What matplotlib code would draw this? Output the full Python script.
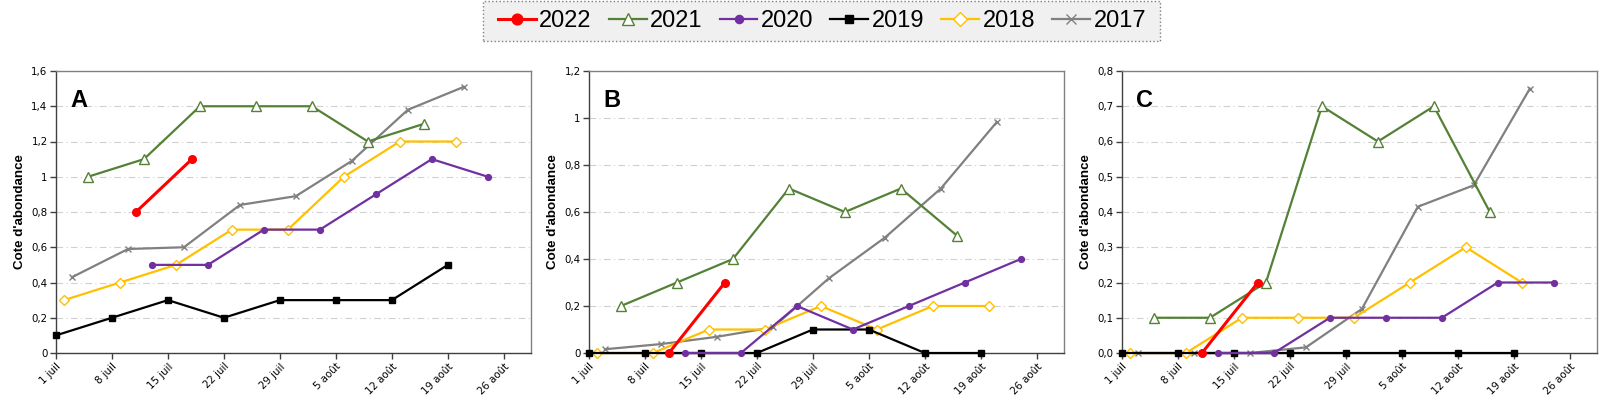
import matplotlib
matplotlib.use('Agg')
import matplotlib.pyplot as plt
from matplotlib.ticker import FixedLocator
from matplotlib.patches import Rectangle

# jours depuis le 1 juillet
days_2022 = [10, 17]
days_2021 = [4, 11, 18, 25, 32, 39, 46]
days_2020 = [12, 19, 26, 33, 40, 47, 54]
days_2019 = [0, 7, 14, 21, 28, 35, 42, 49]
days_2018 = [1, 8, 15, 22, 29, 36, 43, 50]
days_2017 = [2, 9, 16, 23, 30, 37, 44, 51]

# panneau A
a_2022 = [0.8, 1.1]
a_2021 = [1.0, 1.1, 1.4, 1.4, 1.4, 1.2, 1.3]
a_2020 = [0.5, 0.5, 0.7, 0.7, 0.9, 1.1, 1.0]
a_2019 = [0.1, 0.2, 0.3, 0.2, 0.3, 0.3, 0.3, 0.5]
a_2018 = [0.3, 0.4, 0.5, 0.7, 0.7, 1.0, 1.2, 1.2]
a_2017 = [0.43, 0.59, 0.60, 0.84, 0.89, 1.09, 1.38, 1.51]

# panneau B
b_2022 = [0, 0.3]
b_2021 = [0.2, 0.3, 0.4, 0.7, 0.6, 0.7, 0.5]
b_2020 = [0, 0, 0.2, 0.1, 0.2, 0.3, 0.4]
b_2019 = [0, 0, 0, 0, 0.1, 0.1, 0, 0]
b_2018 = [0, 0, 0.1, 0.1, 0.2, 0.1, 0.2, 0.2]
b_2017 = [0.016, 0.038, 0.069, 0.109, 0.318, 0.491, 0.700, 0.983]

# panneau C
c_2022 = [0, 0.2]
c_2021 = [0.1, 0.1, 0.2, 0.7, 0.6, 0.7, 0.4]
c_2020 = [0, 0, 0.1, 0.1, 0.1, 0.2, 0.2]
c_2019 = [0, 0, 0, 0, 0, 0, 0, 0]
c_2018 = [0, 0, 0.1, 0.1, 0.1, 0.2, 0.3, 0.2]
c_2017 = [0, 0, 0, 0.016, 0.125, 0.415, 0.476, 0.75]

tick_days = [0, 7, 14, 21, 28, 35, 42, 49, 56]
tick_labels = ['1 juil', '8 juil', '15 juil', '22 juil', '29 juil',
               '5 août', '12 août', '19 août', '26 août']

years = ['2022', '2021', '2020', '2019', '2018', '2017']
days = [days_2022, days_2021, days_2020, days_2019, days_2018, days_2017]
panels = [
    ('A', [a_2022, a_2021, a_2020, a_2019, a_2018, a_2017], 1.6,
     [0, 0.2, 0.4, 0.6, 0.8, 1, 1.2, 1.4, 1.6],
     ['0', '0,2', '0,4', '0,6', '0,8', '1', '1,2', '1,4', '1,6']),
    ('B', [b_2022, b_2021, b_2020, b_2019, b_2018, b_2017], 1.2,
     [0, 0.2, 0.4, 0.6, 0.8, 1, 1.2],
     ['0', '0,2', '0,4', '0,6', '0,8', '1', '1,2']),
    ('C', [c_2022, c_2021, c_2020, c_2019, c_2018, c_2017], 0.8,
     [0, 0.1, 0.2, 0.3, 0.4, 0.5, 0.6, 0.7, 0.8],
     ['0,0', '0,1', '0,2', '0,3', '0,4', '0,5', '0,6', '0,7', '0,8']),
]

styles = {
    '2022': dict(color='#ff0000', marker='o', ms=5.5, mfc='#ff0000', lw=2.2),
    '2021': dict(color='#538135', marker='^', ms=6.5, mfc='white', lw=1.6),
    '2020': dict(color='#7030a0', marker='o', ms=4.2, mfc='#7030a0', lw=1.6),
    '2019': dict(color='#000000', marker='s', ms=4.5, mfc='#000000', lw=1.6),
    '2018': dict(color='#ffc000', marker='D', ms=5.2, mfc='white', lw=1.6),
    '2017': dict(color='#808080', marker='x', ms=5, mfc='#808080', lw=1.6),
}

fig = plt.figure(figsize=(16, 3.99), dpi=100)
lefts = [56, 589, 1122]
handles = {}
for (letter, vals, ymax, yt, ytl), left in zip(panels, lefts):
    ax = fig.add_axes([left / 1600, 46 / 399, 475 / 1600, 282 / 399])
    for i in range(5, -1, -1):
        y = years[i]
        st = styles[y]
        ln, = ax.plot(days[i], vals[i], color=st['color'], marker=st['marker'],
                      markersize=st['ms'], markerfacecolor=st['mfc'],
                      markeredgecolor=st['color'], markeredgewidth=1,
                      linewidth=st['lw'], clip_on=False, zorder=3, label=y)
        handles[y] = ln
    ax.set_xlim(0, 59.4)
    ax.set_ylim(0, ymax)
    ax.xaxis.set_major_locator(FixedLocator(tick_days))
    ax.set_xticklabels(tick_labels, rotation=45, ha='right',
                       rotation_mode='anchor', fontsize=7.4, family='DejaVu Sans')
    ax.yaxis.set_major_locator(FixedLocator(yt))
    ax.set_yticklabels(ytl, fontsize=7.4, family='DejaVu Sans')
    ax.tick_params(axis='both', direction='out', length=4, width=1,
                   color='#404040', pad=2)
    for s in ['top', 'right']:
        ax.spines[s].set_color('#808080')
    for s in ['left', 'bottom']:
        ax.spines[s].set_color('#404040')
    for s in ax.spines.values():
        s.set_linewidth(1)
    ax.grid(axis='y', color='#d0d0d0', linestyle=(0, (6, 3, 1, 3)), linewidth=0.8)
    ax.set_axisbelow(True)
    ax.set_ylabel("Cote d'abondance", fontsize=9.6, fontweight='bold',
                  family='Liberation Sans')
    ax.yaxis.set_label_coords(-0.063, 0.5)
    ax.text(0.03, 0.935, letter, transform=ax.transAxes, ha='left', va='top',
            fontsize=17, fontweight='bold', family='Liberation Sans')

# cadre de la légende
box = Rectangle((483 / 1600, 358 / 399), 677 / 1600, 40 / 399,
                transform=fig.transFigure, facecolor='#f0f0f0',
                edgecolor='#808080', linestyle=':', linewidth=1, zorder=0)
fig.patches.append(box)

leg = fig.legend([handles[y] for y in years], years, loc='center',
                 bbox_to_anchor=(822 / 1600, 378 / 399), ncol=6, frameon=False,
                 prop={'family': 'Liberation Sans', 'size': 17},
                 handlelength=1.6, handletextpad=0.15, columnspacing=0.72,
                 borderpad=0, borderaxespad=0, markerscale=1.4)

fig.savefig('out.png', dpi=100)
